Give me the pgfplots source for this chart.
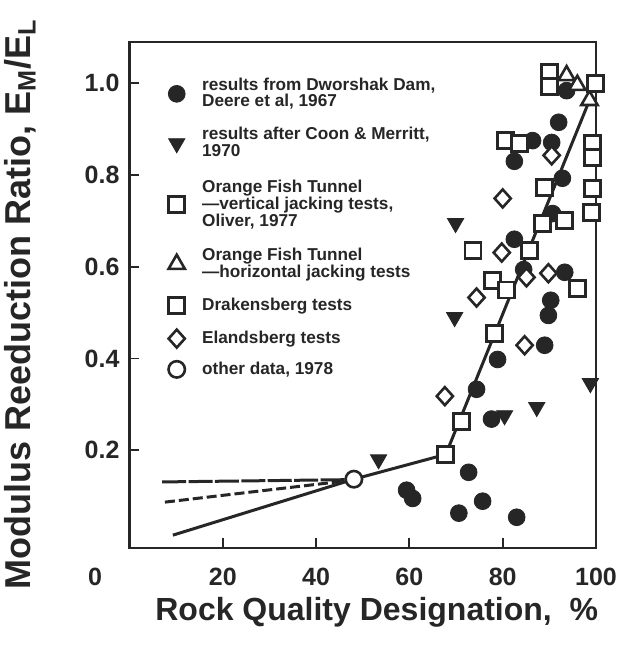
\documentclass[border=0pt]{standalone}
\usepackage{fontspec}
\setmainfont{Liberation Sans}
\setsansfont{Liberation Sans}
\usepackage{pgfplots}
\pgfplotsset{compat=1.18}
\definecolor{ink}{RGB}{38,38,38}

\begin{document}
\begin{tikzpicture}
\begin{axis}[
  scale only axis,
  width=233.25pt, height=253pt,
  xmin=0, xmax=100, ymin=-0.013, ymax=1.09,
  axis line style={line width=1.4pt, ink},
  tick pos=left,
  tick align=inside,
  major tick length=5pt,
  every tick/.style={ink, line width=0.9pt},
  xtick={20,40,60,80,100}, xticklabels={20,40,60,80,100},
  ytick={0.2,0.4,0.6,0.8,1.0}, yticklabels={0.2,0.4,0.6,0.8,1.0},
  tick label style={font=\fontsize{12.5}{14}\selectfont\bfseries, text=ink},
  xticklabel style={anchor=center, yshift=-14.5pt},
  yticklabel style={anchor=east, xshift=-1.5pt},
  xlabel={Rock Quality Designation,\ \ \%},
  ylabel={Modulus Reeduction Ratio, E\textsubscript{M}/E\textsubscript{L}},
  xlabel style={at={(axis description cs:0.53,-0.127)}, anchor=center, font=\fontsize{16}{18}\selectfont\bfseries, text=ink},
  ylabel style={at={(axis description cs:-0.235,0.482)}, anchor=center, font=\fontsize{18}{20}\selectfont\bfseries, text=ink},
  legend style={draw=none, fill=none, at={(0.0824,0.933)}, anchor=north west, inner sep=0pt,
    row sep=6.5pt, column sep=8pt, font=\fontsize{8.6}{8.3}\selectfont\bfseries, text=ink,
    nodes={align=left, inner xsep=0.5pt, inner ysep=0.5pt}, cells={anchor=west}},
]
% trend lines
\addplot[forget plot, no marks, ink, line width=1.5pt, dash pattern=on 12pt off 1.2pt] coordinates {(7.0,0.131) (47,0.136)};
\addplot[forget plot, no marks, ink, line width=1.5pt, dash pattern=on 5pt off 2pt] coordinates {(7.6,0.087) (47,0.134)};
\addplot[forget plot, no marks, ink, line width=1.5pt] coordinates {(9.3,0.015) (48.1,0.137)};
\addplot[forget plot, no marks, ink, line width=1.5pt] coordinates {(48.1,0.137) (67.8,0.191) (98.6,0.963)};

% Dworshak Dam
\addplot[only marks, mark=*, mark size=4.2pt, ink, mark options={fill=ink, draw=ink}] coordinates {
(93.7,0.984) (92.0,0.915) (86.4,0.875) (90.5,0.871) (82.5,0.830) (92.8,0.793)
(90.7,0.716) (82.5,0.660) (84.5,0.594) (93.3,0.588) (90.3,0.527) (89.8,0.494)
(89.0,0.429) (78.9,0.398) (74.4,0.333) (77.6,0.268) (72.7,0.152) (59.4,0.113)
(60.7,0.095) (75.7,0.089) (70.6,0.063) (83.0,0.054)};
\addlegendentry[inner ysep=0.75pt]{results from Dworshak Dam,\\Deere et al, 1967}

% Coon & Merritt
\addplot[only marks, mark=triangle*, mark size=4.7pt, ink, mark options={rotate=180, fill=ink, draw=ink}] coordinates {
(69.9,0.695) (69.7,0.490) (80.4,0.276) (87.3,0.294) (98.8,0.346) (53.4,0.180)};
\addlegendentry[inner ysep=1.5pt]{results after Coon \& Merritt,\\1970}

% Orange Fish Tunnel vertical
\addplot[only marks, mark=square*, mark size=4pt, ink, mark options={fill=white, draw=ink, line width=1.3pt}] coordinates {
(67.8,0.191) (71.2,0.263) (78.3,0.455) (77.8,0.570) (80.8,0.549) (73.6,0.636)
(85.8,0.636) (88.5,0.695) (89.0,0.773) (80.6,0.875) (83.6,0.869) (90.0,1.024) (90.0,0.993)};
\addlegendentry[inner ysep=2.5pt]{Orange Fish Tunnel\\---vertical jacking tests,\\Oliver, 1977}

% Orange Fish Tunnel horizontal
\addplot[only marks, mark=triangle*, mark size=4.7pt, ink, mark options={fill=white, draw=ink, line width=1.3pt}] coordinates {
(93.7,1.017) (96.0,0.996) (98.6,0.963)};
\addlegendentry[inner ysep=0.5pt]{Orange Fish Tunnel\\---horizontal jacking tests}

% Drakensberg
\addplot[only marks, mark=square*, mark size=4pt, ink, mark options={fill=white, draw=ink, line width=1.4pt}] coordinates {
(99.9,0.999) (99.2,0.869) (99.2,0.838) (99.2,0.771) (99.0,0.718) (93.3,0.701) (96.0,0.553)};
\addlegendentry[inner ysep=1.75pt]{Drakensberg tests}

% Elandsberg
\addplot[only marks, mark=diamond*, mark size=4.5pt, ink, mark options={fill=white, draw=ink, line width=1.3pt, xscale=1.2}] coordinates {
(90.5,0.843) (80.0,0.749) (79.8,0.631) (89.8,0.586) (85.1,0.577) (74.4,0.533) (84.7,0.429) (67.6,0.318)};
\addlegendentry[inner ysep=0.5pt]{Elandsberg tests}

% other data
\addplot[only marks, mark=*, mark size=4.1pt, ink, mark options={fill=white, draw=ink, line width=1.3pt}] coordinates {
(48.1,0.137)};
\addlegendentry[inner ysep=0.5pt]{other data, 1978}
\end{axis}
\node[font=\fontsize{12.5}{14}\selectfont\bfseries, text=ink] at (-17.25pt,-14.5pt) {0};
\pgfresetboundingbox
\path[use as bounding box] (-64.75pt,-48.5pt) rectangle (248.25pt,274pt);
\end{tikzpicture}
\end{document}
